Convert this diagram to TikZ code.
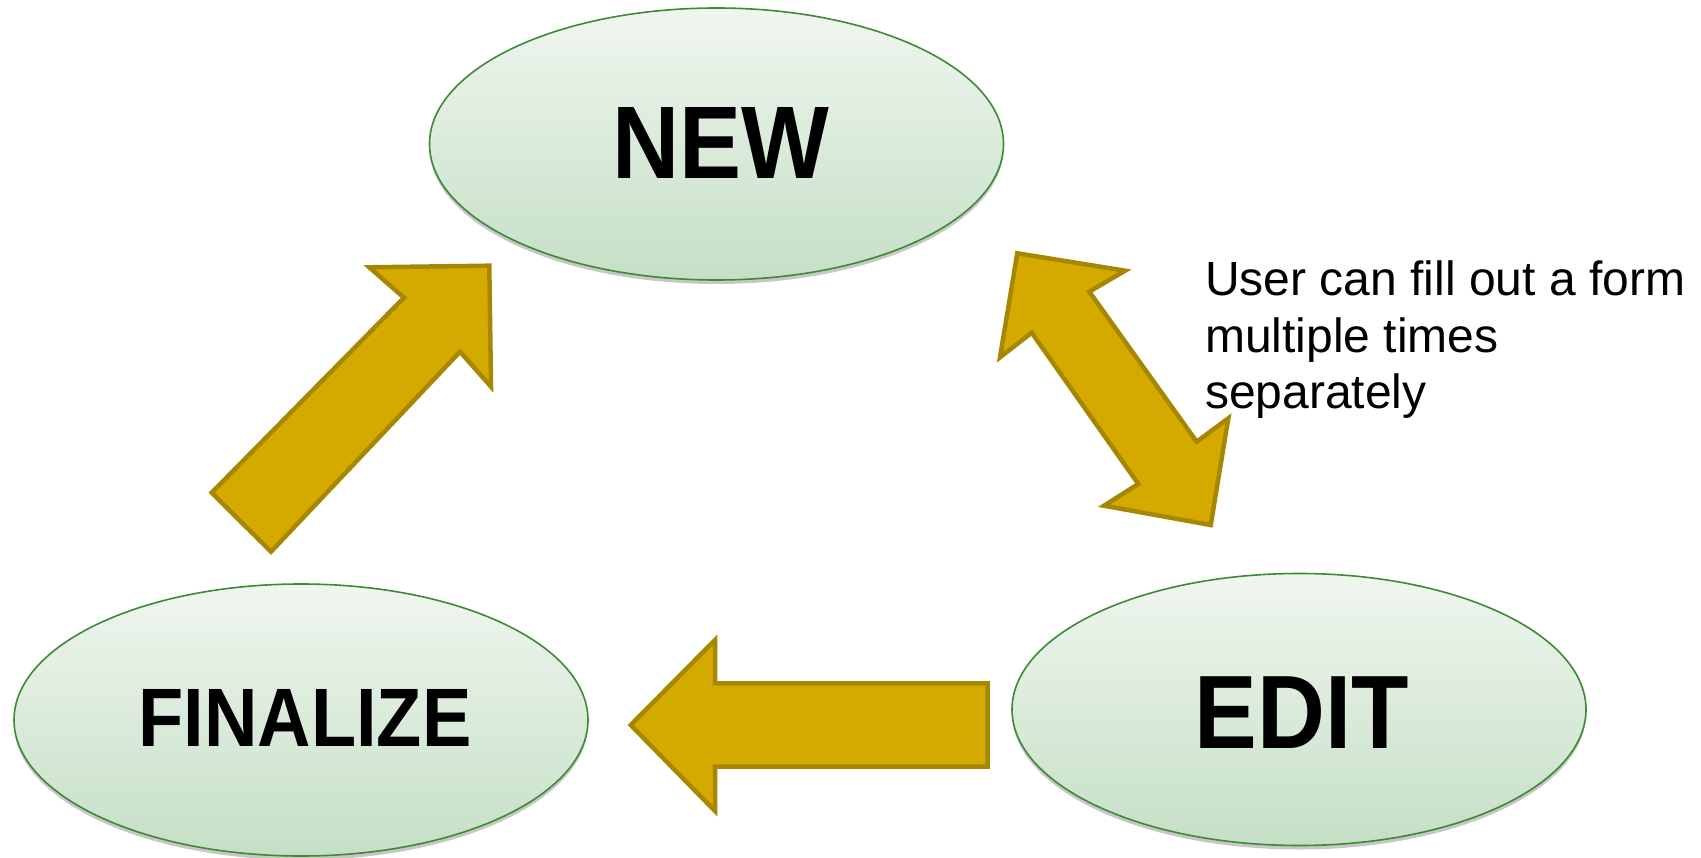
\documentclass[tikz,border=0pt]{standalone}
\usepackage{fontspec}
\setmainfont{Liberation Sans}
\usetikzlibrary{shapes.geometric,shadows}
\definecolor{arrfill}{HTML}{D4AA00}
\definecolor{arrdraw}{HTML}{A88700}
\definecolor{elltop}{HTML}{F0F6EF}
\definecolor{ellbot}{HTML}{C5DFC6}
\definecolor{elldraw}{HTML}{3E8A34}
\begin{document}
\begin{tikzpicture}[x=1pt,y=-1pt,
  stateell/.style={ellipse, draw=elldraw, line width=1.6pt, top color=elltop, bottom color=ellbot,
    minimum width=574pt, minimum height=272pt, inner sep=0pt,
    drop shadow={shadow xshift=0pt, shadow yshift=-4pt, opacity=0.22, fill=black}},
  biglbl/.style={inner sep=0pt, font=\bfseries\fontsize{93}{100}\selectfont},
  blockarrow/.style={fill=arrfill, draw=arrdraw, line width=4.5pt, line join=miter},
  note/.style={anchor=north west, inner sep=0pt, align=left, font=\fontsize{48}{56.5}\selectfont}]
\useasboundingbox (0,0) rectangle (1701,858);

% ellipses
\node[stateell] (new) at (716.5,144) {};
\node[stateell] (fin) at (301,720) {};
\node[stateell] (edit) at (1299,709.5) {};

% labels
\node[biglbl] (newlbl) at (720.5,143) {\scalebox{1}[1.11]{NEW}};
\node[biglbl, font=\bfseries\fontsize{94}{100}\selectfont] (editlbl) at (1302,712.5) {\scalebox{1}[1.11]{EDIT}};
\node[biglbl, font=\bfseries\fontsize{74}{80}\selectfont] (finlbl) at (305,718.3) {\scalebox{1}[1.12]{FINALIZE}};

% arrow FINALIZE -> NEW
\draw[blockarrow] (211.7,492.7) -- (404,297.7) -- (369.3,267.3) -- (489.3,265.7)
  -- (491,386.7) -- (460,351.7) -- (271,551.7) -- cycle;

% arrow EDIT -> FINALIZE
\draw[blockarrow] (987.7,683.3) -- (715,683.3) -- (715,640) -- (630.7,725)
  -- (715,811) -- (715,766.7) -- (987.7,766.7) -- cycle;

% double arrow NEW <-> EDIT
\draw[blockarrow] (1017.3,253.3) -- (1125,270.7) -- (1089.3,291.7) -- (1196.7,441.7)
  -- (1228.3,418.3) -- (1210.7,525) -- (1104,505.7) -- (1138.3,484)
  -- (1031.7,332.7) -- (1000,357.3) -- cycle;

% note
\node[note] (note) at (1205,261) {User can fill out a form\\multiple times\\separately};
\end{tikzpicture}
\end{document}
